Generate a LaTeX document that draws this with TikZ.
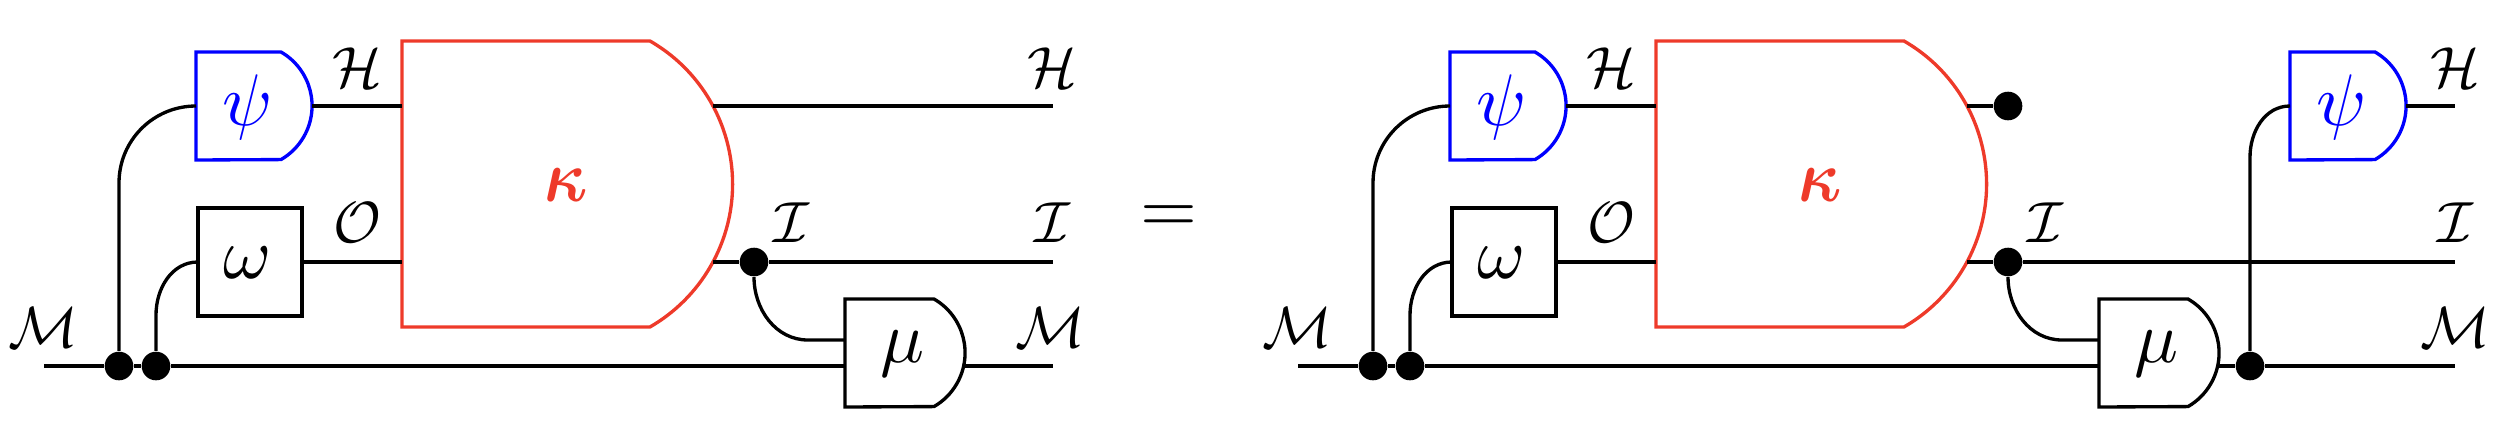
\documentclass[tikz,border=0pt]{standalone}
\usepackage{amsmath}
\definecolor{rouge}{HTML}{EE3A2A}
\begin{document}
\begin{tikzpicture}[x=0.01cm, y=0.01cm]
	\tikzset{point/.style={circle, fill=black, inner sep=0, minimum size=0.286cm}, fil/.style={line width=0.95pt}, porte/.style={line width=0.95pt}, grec/.style={inner sep=0, scale=2.08}, kap/.style={inner sep=0, xscale=1.85, yscale=2.1}, etiq/.style={inner sep=0, scale=1.65}};

	\useasboundingbox (0,0) rectangle (2500,-421);

	% points
	\node[point] (d1) at ( 119, -366) {};
	\node[point] (d2) at ( 156, -366) {};
	\node[point] (d3) at ( 754, -262) {};
	\node[point] (d4) at (1373, -366) {};
	\node[point] (d5) at (1410, -366) {};
	\node[point] (d6) at (2008, -262) {};
	\node[point] (d7) at (2008, -106) {};
	\node[point] (d8) at (2250, -366) {};

	% boites
	\draw[porte, blue] (196,-52) -- (281,-52) arc[start angle=60, end angle=-60, radius=62.1] -- (196,-160) -- cycle;
	\draw[porte] (198,-208) rectangle (302,-316);
	\draw[porte, rouge] (402,-41) -- (650,-41) arc[start angle=60, end angle=-60, radius=165.1] -- (402,-327) -- cycle;
	\draw[porte] (845,-299) -- (934,-299) arc[start angle=60, end angle=-60, radius=62.1] -- (845,-407) -- cycle;

	\draw[porte, blue] (1450,-52) -- (1535,-52) arc[start angle=60, end angle=-60, radius=62.1] -- (1450,-160) -- cycle;
	\draw[porte] (1452,-208) rectangle (1556,-316);
	\draw[porte, rouge] (1656,-41) -- (1904,-41) arc[start angle=60, end angle=-60, radius=165.1] -- (1656,-327) -- cycle;
	\draw[porte] (2099,-299) -- (2188,-299) arc[start angle=60, end angle=-60, radius=62.1] -- (2099,-407) -- cycle;
	\draw[porte, blue] (2290,-52) -- (2375,-52) arc[start angle=60, end angle=-60, radius=62.1] -- (2290,-160) -- cycle;

	\node[grec, blue] (psi1) at ( 248, -107) {$\psi$};
	\node[grec] (omega1) at ( 248, -263) {$\omega$};
	\node[kap, rouge] (kappa1) at ( 566, -185) {$\boldsymbol{\kappa}$};
	\node[grec] (mu1) at ( 903, -354) {$\mu$};
	\node[grec, blue] (psi2) at (1502, -107) {$\psi$};
	\node[grec] (omega2) at (1502, -263) {$\omega$};
	\node[kap, rouge] (kappa2) at (1820, -185) {$\boldsymbol{\kappa}$};
	\node[grec] (mu2) at (2157, -354) {$\mu$};
	\node[grec, blue] (psi3) at (2342, -107) {$\psi$};

	\node[etiq] (lm1) at (  43, -328) {$\mathcal{M}$};
	\node[etiq] (lh1) at ( 357,  -68) {$\mathcal{H}$};
	\node[etiq] (lo1) at ( 357, -223) {$\mathcal{O}$};
	\node[etiq] (li1) at ( 791, -223) {$\mathcal{I}$};
	\node[etiq] (lh2) at (1052,  -68) {$\mathcal{H}$};
	\node[etiq] (li2) at (1052, -223) {$\mathcal{I}$};
	\node[etiq] (lm2) at (1050, -328) {$\mathcal{M}$};
	\node[grec] (egal) at (1169, -219) {$=$};
	\node[etiq] (lm3) at (1297, -328) {$\mathcal{M}$};
	\node[etiq] (lh3) at (1611,  -68) {$\mathcal{H}$};
	\node[etiq] (lo3) at (1611, -223) {$\mathcal{O}$};
	\node[etiq] (li3) at (2045, -223) {$\mathcal{I}$};
	\node[etiq] (lh4) at (2455,  -68) {$\mathcal{H}$};
	\node[etiq] (li4) at (2455, -223) {$\mathcal{I}$};
	\node[etiq] (lm4) at (2455, -328) {$\mathcal{M}$};

	% bouts de fils
	\coordinate (m1) at (  44, -366);
	\coordinate (psi1in) at ( 196, -106);
	\coordinate (psi1out) at ( 312, -106);
	\coordinate (om1in) at ( 198, -262);
	\coordinate (om1out) at ( 302, -262);
	\coordinate (k1a) at ( 402, -106);
	\coordinate (k1b) at ( 402, -262);
	\coordinate (k1c) at ( 713, -106);
	\coordinate (k1d) at ( 713, -262);
	\coordinate (h1) at (1053, -106);
	\coordinate (i1) at (1053, -262);
	\coordinate (mu1c) at ( 808, -340);
	\coordinate (mu1a) at ( 845, -340);
	\coordinate (mu1b) at ( 845, -366);
	\coordinate (mu1out) at ( 965, -366);
	\coordinate (m2) at (1053, -366);

	\coordinate (m3) at (1298, -366);
	\coordinate (psi2in) at (1450, -106);
	\coordinate (psi2out) at (1566, -106);
	\coordinate (om2in) at (1452, -262);
	\coordinate (om2out) at (1556, -262);
	\coordinate (k2a) at (1656, -106);
	\coordinate (k2b) at (1656, -262);
	\coordinate (k2c) at (1967, -106);
	\coordinate (k2d) at (1967, -262);
	\coordinate (mu2c) at (2062, -340);
	\coordinate (mu2a) at (2099, -340);
	\coordinate (mu2b) at (2099, -366);
	\coordinate (mu2out) at (2219, -366);
	\coordinate (psi3in) at (2290, -106);
	\coordinate (psi3out) at (2406, -106);
	\coordinate (h2) at (2455, -106);
	\coordinate (i2) at (2455, -262);
	\coordinate (m4) at (2455, -366);

	\draw[fil] (m1) -- (d1);
	\draw[fil] (d1) -- (d2);
	\draw[fil] (d2) -- (mu1b);
	\draw[fil] (mu1out) -- (m2);
	\draw[fil] (d1) -- ++(0,183) to[out=90, in=180] (psi1in);
	\draw[fil] (d2) -- ++(0,51) to[out=90, in=180] (om1in);
	\draw[fil] (psi1out) -- (k1a);
	\draw[fil] (om1out) -- (k1b);
	\draw[fil] (k1c) -- (h1);
	\draw[fil] (k1d) -- (d3);
	\draw[fil] (d3) -- (i1);
	\draw[fil] (d3) to[out=-90, in=180] (mu1c) -- (mu1a);

	\draw[fil] (m3) -- (d4);
	\draw[fil] (d4) -- (d5);
	\draw[fil] (d5) -- (mu2b);
	\draw[fil] (mu2out) -- (d8);
	\draw[fil] (d8) -- (m4);
	\draw[fil] (d4) -- ++(0,183) to[out=90, in=180] (psi2in);
	\draw[fil] (d5) -- ++(0,51) to[out=90, in=180] (om2in);
	\draw[fil] (psi2out) -- (k2a);
	\draw[fil] (om2out) -- (k2b);
	\draw[fil] (k2c) -- (d7);
	\draw[fil] (k2d) -- (d6);
	\draw[fil] (d6) -- (i2);
	\draw[fil] (d6) to[out=-90, in=180] (mu2c) -- (mu2a);
	\draw[fil] (d8) -- ++(0,209) to[out=90, in=180] (psi3in);
	\draw[fil] (psi3out) -- (h2);

\end{tikzpicture}
\end{document}
